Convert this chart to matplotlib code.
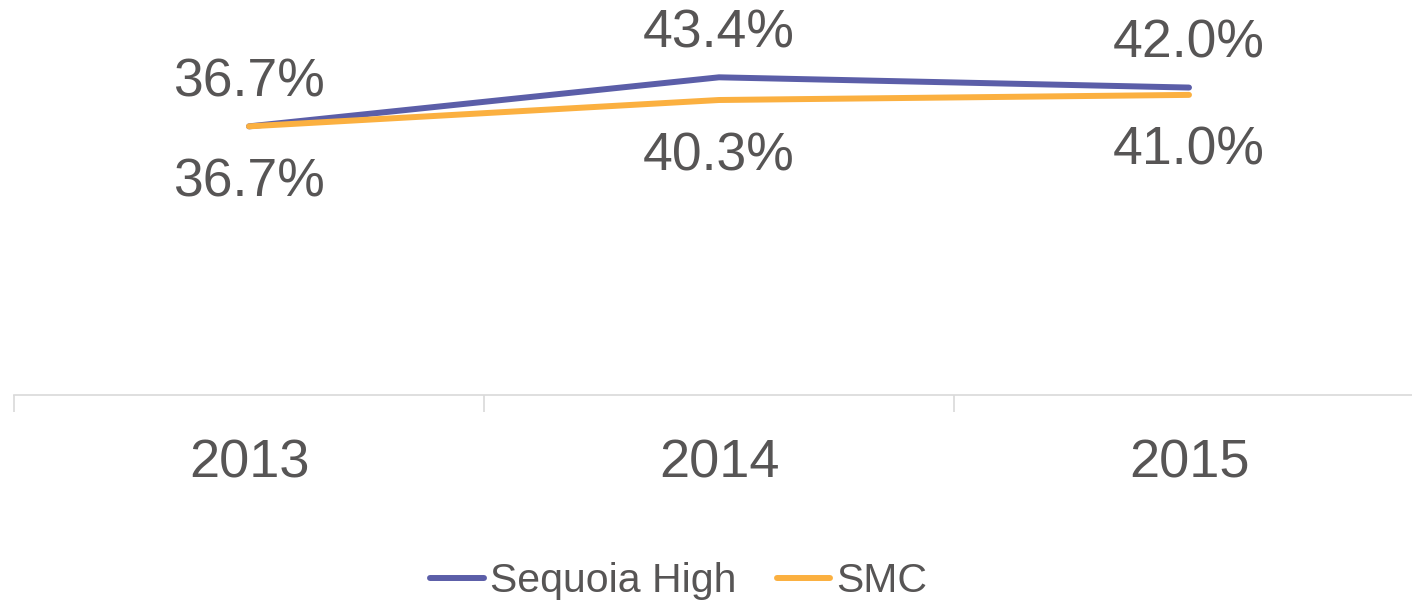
import matplotlib
matplotlib.use("Agg")
import matplotlib.pyplot as plt
from matplotlib.ticker import FixedLocator

years = ["2013", "2014", "2015"]
sequoia = [36.7, 43.4, 42.0]
smc = [36.7, 40.3, 41.0]
series_names = ["Sequoia High", "SMC"]

TEXT = "#575555"
GRID = "#D9D9D9"
C_SEQ = "#5B5EA8"
C_SMC = "#FBB040"

plt.rcParams['font.family'] = ['Liberation Sans', 'DejaVu Sans']

W, H = 1412, 603
fig = plt.figure(figsize=(W / 100, H / 100), dpi=100)
ax = fig.add_axes([14 / W, (H - 395) / H, (W - 14) / W, 395 / H])

x = list(range(len(years)))
ax.plot(x, sequoia, color=C_SEQ, lw=4.3, solid_capstyle='round', label=series_names[0], zorder=3)
ax.plot(x, smc, color=C_SMC, lw=4.3, solid_capstyle='round', label=series_names[1], zorder=3)

for xi, v in zip(x, sequoia):
    ax.annotate(f"{v:.1f}%", (xi, v), xytext=(0, 21.6), textcoords='offset points',
                ha='center', va='baseline', fontsize=38.5, color=TEXT, annotation_clip=False)
for xi, v in zip(x, smc):
    ax.annotate(f"{v:.1f}%", (xi, v), xytext=(0, -50.4), textcoords='offset points',
                ha='center', va='baseline', fontsize=38.5, color=TEXT, annotation_clip=False)

ax.set_xlim(-0.5, -0.5 + (W - 14) / 470)
ax.set_ylim(0, 395 / 7.32)

for s in ['top', 'right', 'left']:
    ax.spines[s].set_visible(False)
ax.spines['bottom'].set_color(GRID)
ax.spines['bottom'].set_linewidth(1.2)

ax.set_yticks([])
ax.set_xticks(x)
ax.set_xticklabels(years)
ax.xaxis.set_minor_locator(FixedLocator([-0.5, 0.5, 1.5, 2.5]))
ax.tick_params(axis='x', which='major', length=0, pad=31, labelsize=39, labelcolor=TEXT)
ax.tick_params(axis='x', which='minor', length=12, width=1.2, color=GRID, direction='out')

leg = fig.legend(loc='center', bbox_to_anchor=(679 / W, 1 - 581 / H), ncol=2, frameon=False,
                 fontsize=29.5, handlelength=1.3, handletextpad=0.15, columnspacing=1.0,
                 borderpad=0, borderaxespad=0)
for t in leg.get_texts():
    t.set_color(TEXT)

fig.savefig("out.png", dpi=100)
